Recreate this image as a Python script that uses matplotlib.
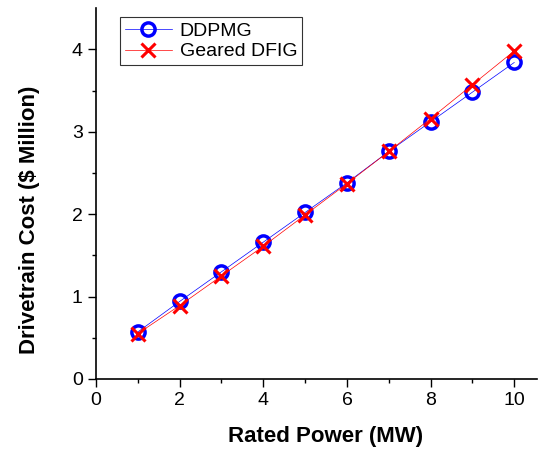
import matplotlib.pyplot as plt
import numpy as np

plt.rcParams['font.family'] = ['Liberation Sans', 'DejaVu Sans']

power = [1, 2, 3, 4, 5, 6, 7, 8, 9, 10]
ddpmg = [0.57, 0.94, 1.30, 1.66, 2.02, 2.38, 2.76, 3.12, 3.48, 3.84]
dfig = [0.55, 0.89, 1.25, 1.61, 1.99, 2.37, 2.76, 3.16, 3.57, 3.98]

fig = plt.figure(figsize=(5.55, 4.5), dpi=100)
ax = fig.add_axes([0.173, 0.158, 0.795, 0.824])

ax.plot(power, ddpmg, color='blue', lw=0.5, marker='o', ms=9.5, mfc='none',
        mec='blue', mew=2.5, label='DDPMG')
ax.plot(power, dfig, color='red', lw=0.5, marker='x', ms=10.5,
        mec='red', mew=2.2, label='Geared DFIG')

ax.set_xlim(0, 10.55)
ax.set_ylim(0, 4.5)
ax.set_xticks([0, 2, 4, 6, 8, 10])
ax.set_xticks(np.arange(1, 11, 2), minor=True)
ax.set_yticks([0, 1, 2, 3, 4])
ax.set_yticks([0.5, 1.5, 2.5, 3.5], minor=True)
ax.tick_params(which='major', direction='out', length=6, width=1, labelsize=14)
ax.tick_params(which='minor', direction='out', length=3, width=1)

for s in ['top', 'right']:
    ax.spines[s].set_visible(False)
for s in ['left', 'bottom']:
    ax.spines[s].set_linewidth(1.2)

ax.set_xlabel('Rated Power (MW)', fontsize=16, fontweight='bold')
ax.set_ylabel('Drivetrain Cost ($ Million)', fontsize=16, fontweight='bold')
ax.xaxis.set_label_coords(0.52, -0.128)
ax.yaxis.set_label_coords(-0.126, 0.43)

leg = ax.legend(loc='upper left', bbox_to_anchor=(0.055, 0.975), fontsize=14,
                frameon=True, fancybox=False, handlelength=2.4,
                borderpad=0.25, labelspacing=0.15, handletextpad=0.4,
                borderaxespad=0)
leg.get_frame().set_edgecolor('black')
leg.get_frame().set_linewidth(0.8)

fig.savefig('out.png', dpi=100)
